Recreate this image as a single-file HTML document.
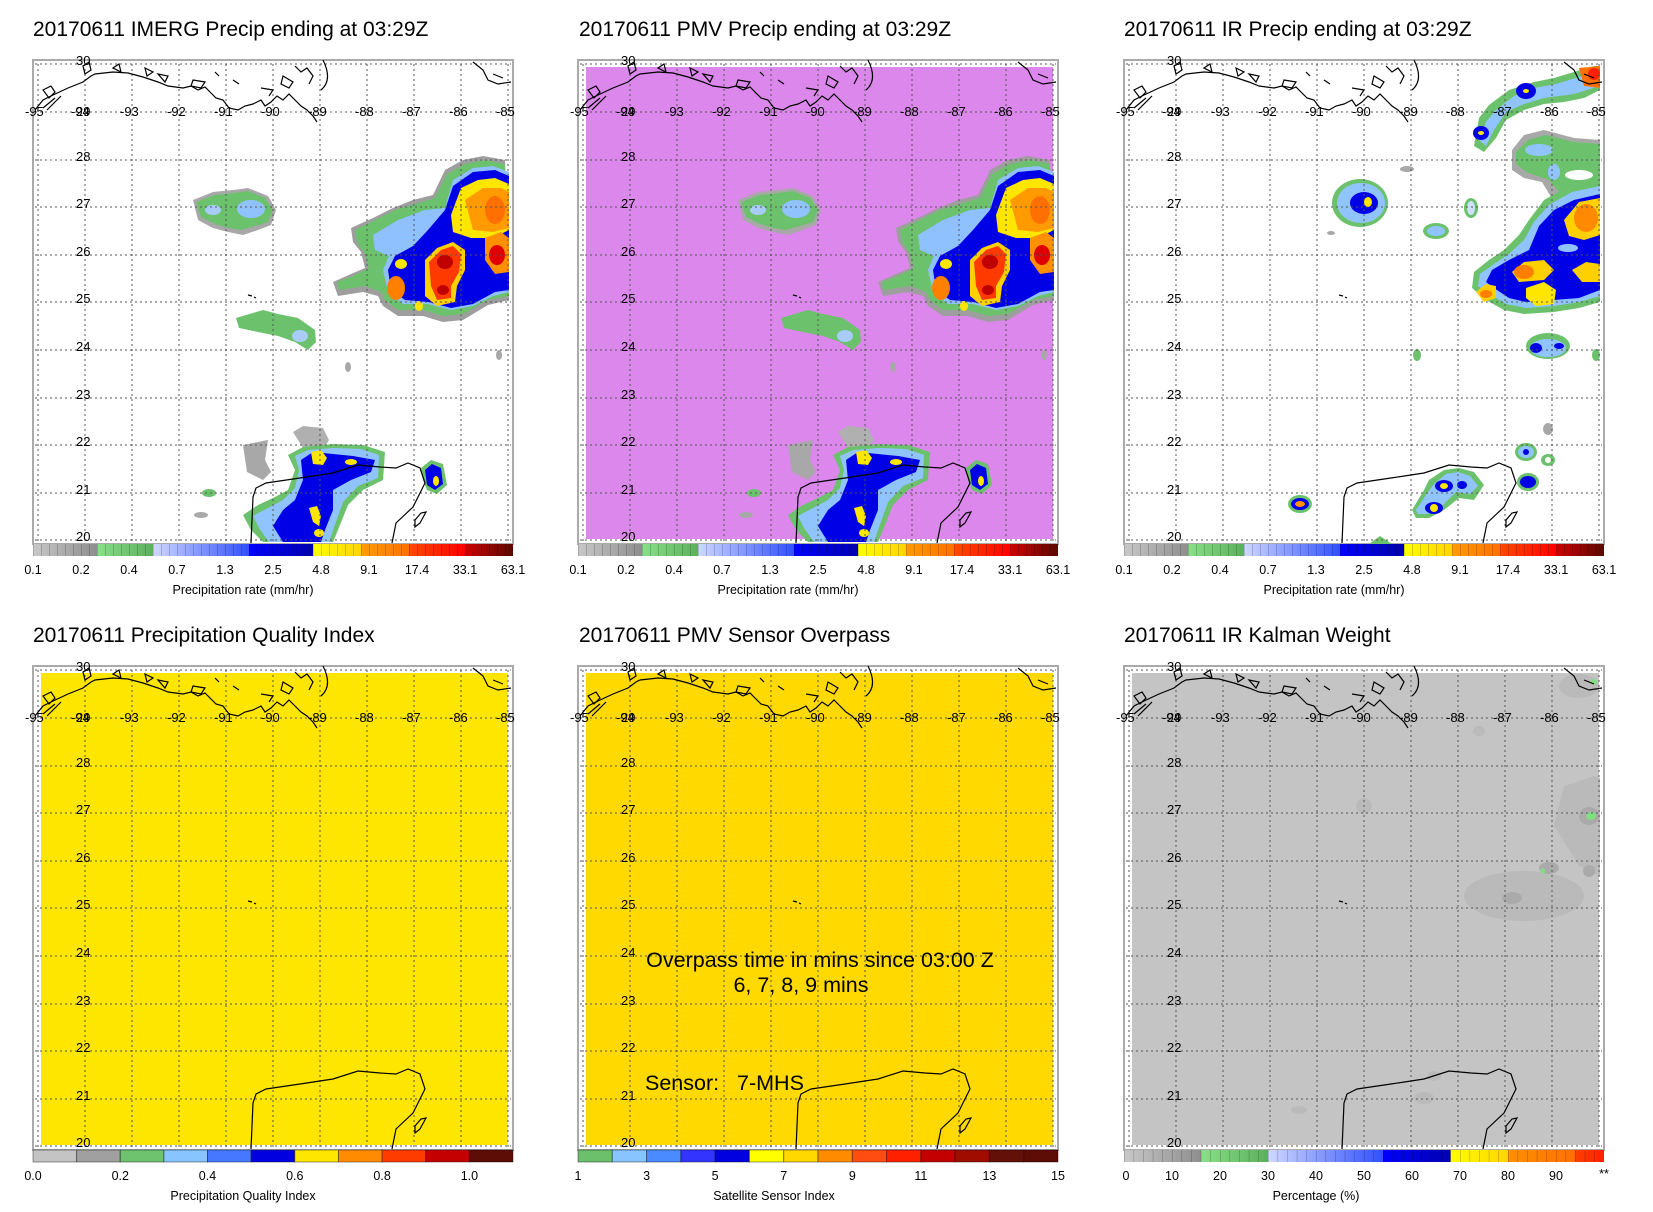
<!DOCTYPE html>
<html><head><meta charset="utf-8"><style>
html,body{margin:0;padding:0;background:#fff}
svg{display:block}
text{font-family:"Liberation Sans",sans-serif;fill:#000}
.t{font-size:21px}
.tk{font-size:13px}
.cl{font-size:12.5px}
.at{font-size:12.5px}
</style></head><body>
<svg width="1653" height="1212" viewBox="0 0 1653 1212" xmlns="http://www.w3.org/2000/svg">
<defs>
  <g id="grid" fill="none" stroke="#555" stroke-width="1" stroke-dasharray="2,3">
    <path d="M5 4V482M52 4V482M99 4V482M146 4V482M193 4V482M240 4V482M287 4V482M334 4V482M381 4V482M428 4V482M475 4V482"/>
    <path d="M2 4H478M2 52H478M2 100H478M2 147H478M2 195H478M2 242H478M2 290H478M2 338H478M2 385H478M2 433H478M2 480H478"/>
  </g>
  <g id="coast" fill="none" stroke="#000" stroke-width="1.2">
    <path d="M2 50 L10 40 L20 35 L35 28 L50 22 L58 16 L62 14 L80 12 L95 13 L110 17 L125 22 L135 26 L150 28 L158 26 L165 30 L172 27 L178 33 L183 38 L190 40 L196 48 L205 50 L212 46 L220 44 L228 40 L232 46 L238 42 L244 36 L250 40 L256 34 L262 40 L268 46 L274 50 L280 56 L284 62"/>
    <path d="M10 30 L18 26 L22 32 L16 38 Z M50 6 L56 2 L58 10 L52 14 Z M80 8 L86 4 L88 12 Z M112 8 L120 12 L114 16 Z M125 14 L135 16 L132 22 Z M160 20 L172 22 L168 28 L158 26 Z M182 12 L186 16 M200 20 L206 24 M228 28 L240 30 L236 36 M250 16 L260 22 L256 28 L248 24 Z M262 6 L268 12 L274 8 L280 16 L276 24 M290 0 Q300 20 288 30"/>
    <path d="M10 48 L22 38 M14 50 L28 36"/>
    <path d="M440 2 L450 10 L455 20 L465 24 L478 22 M460 14 L470 18"/>
    <path d="M218 483 L220 437 L223 428 L233 423 L267 418 L300 413 L325 405 L347 407 L363 408 L375 403 L387 408 L392 423 L380 447 L363 463 L359 483"/>
    <path d="M382 460 L388 453 L393 452 L387 463 L382 467 Z"/>
    <path d="M215 235 L219 236 M221 237 L223 238"/>
  </g>
  <g id="lonlab" class="tk">
    <text x="-8" y="56" class="tk">-95</text><text x="38" y="56" class="tk">-94</text>
    <text x="87" y="56" class="tk">-93</text><text x="134" y="56" class="tk">-92</text>
    <text x="181" y="56" class="tk">-91</text><text x="228" y="56" class="tk">-90</text>
    <text x="275" y="56" class="tk">-89</text><text x="322" y="56" class="tk">-88</text>
    <text x="369" y="56" class="tk">-87</text><text x="416" y="56" class="tk">-86</text>
    <text x="463" y="56" class="tk">-85</text>
  </g>
  <g id="imerg">
    <path d="M160 140 L180 132 L200 130 L215 128 L235 136 L243 150 L238 165 L225 170 L210 175 L195 172 L180 168 L165 160 Z" fill="#a8a8a8"/>
    <path d="M163 142 L182 135 L200 133 L215 131 L232 138 L240 150 L235 162 L222 166 L208 170 L195 168 L182 164 L168 157 Z" fill="#6cc26c"/>
    <ellipse cx="218" cy="149" rx="14" ry="9" fill="#8fc2ff"/><ellipse cx="180" cy="150" rx="8" ry="5" fill="#a8ccff"/>
    <path d="M203 258 L230 250 L245 254 L265 258 L282 270 L283 282 L275 290 L262 282 L245 276 L225 272 L206 268 Z" fill="#6cc26c"/>
    <ellipse cx="267" cy="276" rx="8" ry="6" fill="#a8ccff"/>
    <path d="M318 168 L340 158 L360 148 L380 140 L400 135 L412 110 L430 100 L450 96 L472 100 L476 240 L455 245 L430 260 L410 262 L390 256 L365 256 L350 246 L345 236 L330 232 L305 236 L300 222 L318 214 L332 208 L328 192 L320 182 Z" fill="#9e9e9e"/>
    <path d="M322 170 L342 160 L362 150 L382 144 L402 138 L414 114 L432 104 L452 100 L472 104 L476 236 L455 240 L430 254 L410 256 L390 250 L365 250 L352 240 L348 232 L332 226 L306 230 L304 222 L320 216 L336 208 L332 194 L324 182 Z" fill="#6cc26c"/>
    <path d="M340 175 L365 160 L392 150 L412 148 L420 120 L440 108 L460 106 L476 112 L476 232 L460 236 L440 246 L418 250 L395 244 L370 244 L355 232 L350 210 L356 196 L342 190 Z" fill="#8fc0ff"/>
    <path d="M395 170 L412 150 L420 126 L440 112 L462 110 L476 116 L476 230 L462 232 L440 244 L418 248 L395 242 L372 240 L358 230 L355 210 L362 196 L380 186 Z" fill="#0000e6"/>
    <path d="M418 155 L428 128 L445 120 L462 118 L476 124 L476 170 L460 178 L438 178 L420 172 Z" fill="#ffe600"/>
    <path d="M432 140 L450 128 L468 128 L476 132 L476 168 L460 172 L440 170 Z" fill="#ff9a00"/>
    <ellipse cx="462" cy="150" rx="10" ry="14" fill="#ff7000"/>
    <path d="M392 200 L404 188 L420 182 L432 190 L432 210 L424 226 L422 242 L404 246 L392 236 Z" fill="#ffd000"/>
    <path d="M396 202 L408 190 L420 186 L428 194 L426 212 L418 226 L418 238 L404 240 L398 226 Z" fill="#ff3a00"/>
    <ellipse cx="412" cy="202" rx="8" ry="7" fill="#c00000"/><ellipse cx="410" cy="230" rx="6" ry="5" fill="#c00000"/>
    <path d="M452 178 L468 172 L476 178 L476 212 L462 214 L452 200 Z" fill="#ff9000"/>
    <ellipse cx="464" cy="195" rx="8" ry="10" fill="#e00000"/>
    <ellipse cx="363" cy="228" rx="9" ry="12" fill="#ff8000"/>
    <ellipse cx="368" cy="204" rx="6" ry="5" fill="#ffe600"/>
    <ellipse cx="386" cy="246" rx="4" ry="5" fill="#ffe600"/>
    <path d="M210 385 L235 380 L232 400 L238 412 L230 420 L214 412 Z" fill="#a8a8a8"/>
    <path d="M260 372 L270 366 L290 368 L296 380 L290 390 L270 388 Z" fill="#b0b0b0"/>
    <path d="M255 395 L270 387 L300 384 L330 385 L352 392 L350 420 L330 430 L315 445 L305 470 L300 482 L230 482 L218 470 L210 455 L225 445 L240 438 L255 430 L262 410 Z" fill="#6cc26c"/>
    <path d="M262 396 L275 390 L300 388 L328 389 L346 395 L345 418 L325 426 L310 442 L300 470 L296 482 L236 482 L226 468 L220 456 L235 448 L250 440 L262 428 L266 410 Z" fill="#90c4ff"/>
    <path d="M268 400 L280 392 L300 394 L320 396 L342 400 L338 412 L318 420 L300 430 L300 450 L292 470 L288 482 L250 482 L240 466 L250 450 L262 440 L270 420 Z" fill="#0000e6"/>
    <path d="M278 392 L288 390 L294 398 L290 405 L280 404 Z" fill="#ffe600"/>
    <ellipse cx="318" cy="402" rx="6" ry="3" fill="#ffe600"/>
    <path d="M276 448 L284 446 L288 456 L286 466 L280 462 Z" fill="#ffe600"/>
    <ellipse cx="286" cy="473" rx="5" ry="4" fill="#ffe600"/>
    <path d="M388 408 L398 400 L410 404 L414 425 L404 434 L394 430 L390 420 Z" fill="#6cc26c"/>
    <path d="M392 410 L399 404 L408 408 L410 424 L402 430 L394 425 Z" fill="#0000e6"/>
    <ellipse cx="403" cy="421" rx="3" ry="5" fill="#ffe600"/>
    <ellipse cx="176" cy="433" rx="7" ry="4" fill="#6cc26c"/>
    <ellipse cx="168" cy="455" rx="7" ry="3" fill="#a8a8a8"/>
    <ellipse cx="315" cy="307" rx="3" ry="5" fill="#a8a8a8"/>
    <ellipse cx="466" cy="295" rx="3" ry="5" fill="#a8a8a8"/>
  </g>
  <g id="ir">
    <path d="M355 58 L365 45 L385 30 L410 22 L430 18 L450 12 L470 6 L476 6 L476 30 L460 38 L440 42 L420 44 L400 50 L382 60 L372 78 L360 92 L350 86 Z" fill="#6cc26c"/>
    <path d="M362 62 L372 50 L390 36 L410 28 L432 24 L452 18 L476 10 L476 26 L450 34 L420 38 L400 44 L382 52 L370 70 L362 86 L355 80 Z" fill="#90c4ff"/>
    <ellipse cx="402" cy="31" rx="10" ry="8" fill="#0000e6"/><ellipse cx="402" cy="31" rx="3" ry="2" fill="#ffe600"/>
    <ellipse cx="357" cy="73" rx="8" ry="7" fill="#0000e6"/><ellipse cx="357" cy="73" rx="3" ry="2" fill="#ffe600"/>
    <path d="M455 8 L476 6 L476 28 L460 26 Z" fill="#ff7000"/><ellipse cx="470" cy="14" rx="6" ry="6" fill="#ff2000"/>
    <path d="M388 90 L400 75 L420 70 L450 78 L476 80 L476 140 L460 148 L440 150 L430 142 L418 122 L400 118 L388 110 Z" fill="#a8a8a8"/>
    <path d="M392 92 L404 80 L422 75 L450 82 L476 84 L476 136 L455 142 L440 138 L425 120 L402 112 L392 104 Z" fill="#6cc26c"/>
    <ellipse cx="415" cy="90" rx="14" ry="6" fill="#90c4ff"/><ellipse cx="430" cy="112" rx="6" ry="8" fill="#90c4ff"/>
    <ellipse cx="455" cy="115" rx="14" ry="5" fill="#fff"/>
    <path d="M405 160 L420 140 L445 126 L476 118 L476 242 L455 248 L430 252 L400 254 L380 250 L362 240 L348 228 L350 212 L365 200 L380 190 L395 175 Z" fill="#6cc26c"/>
    <path d="M410 162 L425 145 L448 132 L476 126 L476 236 L455 242 L430 246 L402 248 L382 244 L366 234 L354 226 L356 214 L370 204 L385 194 L400 180 Z" fill="#90c4ff"/>
    <path d="M415 166 L430 150 L450 140 L476 134 L476 230 L455 238 L430 240 L402 242 L385 238 L370 228 L362 222 L368 210 L385 200 L405 190 Z" fill="#0000e6"/>
    <path d="M440 160 L455 142 L476 138 L476 175 L460 180 L445 176 Z" fill="#ffd000"/>
    <ellipse cx="462" cy="158" rx="12" ry="14" fill="#ff8a00"/>
    <path d="M388 212 L400 202 L420 200 L430 210 L420 220 L395 222 Z" fill="#ffd000"/>
    <ellipse cx="400" cy="212" rx="10" ry="7" fill="#ff8000"/>
    <path d="M402 228 L420 222 L432 230 L430 244 L412 246 L402 238 Z" fill="#ffe600"/>
    <path d="M352 232 L362 224 L372 226 L372 238 L360 242 Z" fill="#ffd000"/><ellipse cx="362" cy="234" rx="6" ry="4" fill="#ff8000"/>
    <path d="M448 210 L462 202 L476 204 L476 222 L458 222 Z" fill="#ffd000"/>
    <ellipse cx="444" cy="188" rx="10" ry="4" fill="#90c4ff"/>
    <ellipse cx="236" cy="143" rx="28" ry="24" fill="#6cc26c"/>
    <ellipse cx="237" cy="143" rx="24" ry="20" fill="#90c4ff"/>
    <ellipse cx="240" cy="143" rx="14" ry="11" fill="#0000e6"/>
    <ellipse cx="244" cy="142" rx="4" ry="5" fill="#ffe600"/>
    <ellipse cx="283" cy="109" rx="7" ry="3" fill="#a8a8a8"/>
    <ellipse cx="207" cy="173" rx="4" ry="2" fill="#a8a8a8"/>
    <ellipse cx="312" cy="171" rx="13" ry="8" fill="#6cc26c"/><ellipse cx="312" cy="171" rx="9" ry="5" fill="#90c4ff"/>
    <ellipse cx="347" cy="148" rx="7" ry="10" fill="#6cc26c"/><ellipse cx="347" cy="148" rx="4" ry="7" fill="#cce0ff"/>
    <ellipse cx="424" cy="286" rx="22" ry="13" fill="#6cc26c"/><ellipse cx="424" cy="288" rx="18" ry="9" fill="#90c4ff"/>
    <ellipse cx="412" cy="288" rx="6" ry="5" fill="#0000e6"/><ellipse cx="435" cy="286" rx="5" ry="3" fill="#0000e6"/>
    <ellipse cx="293" cy="295" rx="4" ry="6" fill="#6cc26c"/>
    <ellipse cx="472" cy="295" rx="4" ry="6" fill="#6cc26c"/>
    <ellipse cx="424" cy="369" rx="5" ry="6" fill="#a8a8a8"/>
    <path d="M288 450 L300 430 L305 420 L320 410 L335 408 L350 412 L360 425 L350 440 L335 438 L320 450 L305 458 L292 458 Z" fill="#6cc26c"/>
    <path d="M292 450 L304 432 L310 424 L322 414 L334 412 L346 416 L354 426 L346 434 L332 432 L318 446 L304 454 L294 454 Z" fill="#90c4ff"/>
    <ellipse cx="320" cy="426" rx="9" ry="6" fill="#0000e6"/><ellipse cx="320" cy="426" rx="4" ry="3" fill="#ffe600"/>
    <ellipse cx="310" cy="448" rx="9" ry="6" fill="#0000e6"/><ellipse cx="310" cy="448" rx="4" ry="4" fill="#ffe600"/>
    <ellipse cx="338" cy="425" rx="5" ry="4" fill="#0000e6"/>
    <ellipse cx="176" cy="444" rx="12" ry="9" fill="#6cc26c"/><ellipse cx="176" cy="444" rx="9" ry="6" fill="#0000e6"/><ellipse cx="176" cy="444" rx="5" ry="3" fill="#ff9000"/>
    <ellipse cx="402" cy="392" rx="11" ry="9" fill="#6cc26c"/><ellipse cx="402" cy="392" rx="8" ry="6" fill="#90c4ff"/><ellipse cx="402" cy="392" rx="3" ry="3" fill="#0000e6"/>
    <ellipse cx="404" cy="422" rx="11" ry="9" fill="#6cc26c"/><ellipse cx="404" cy="422" rx="8" ry="6" fill="#0000e6"/>
    <ellipse cx="424" cy="400" rx="7" ry="6" fill="#6cc26c"/><ellipse cx="424" cy="400" rx="3" ry="3" fill="#fff"/>
    <path d="M245 484 L256 476 L268 484 Z" fill="#6cc26c"/>
  </g>
  <linearGradient id="gp" x1="0" x2="1">
    <stop offset="0" stop-color="#c8c8c8"/><stop offset="0.133" stop-color="#8e8e8e"/>
    <stop offset="0.133" stop-color="#88e088"/><stop offset="0.25" stop-color="#5cb05c"/>
    <stop offset="0.25" stop-color="#d0d8ff"/><stop offset="0.45" stop-color="#3050ff"/>
    <stop offset="0.45" stop-color="#0000ff"/><stop offset="0.583" stop-color="#0000b0"/>
    <stop offset="0.583" stop-color="#ffff00"/><stop offset="0.683" stop-color="#ffd400"/>
    <stop offset="0.683" stop-color="#ff9c00"/><stop offset="0.783" stop-color="#ff7000"/>
    <stop offset="0.783" stop-color="#ff4a00"/><stop offset="0.9" stop-color="#ff0000"/>
    <stop offset="0.9" stop-color="#d00000"/><stop offset="1" stop-color="#5a0a00"/>
  </linearGradient>
  <linearGradient id="gk" x1="0" x2="1">
    <stop offset="0" stop-color="#c8c8c8"/><stop offset="0.16" stop-color="#8e8e8e"/>
    <stop offset="0.16" stop-color="#88e088"/><stop offset="0.3" stop-color="#5cb05c"/>
    <stop offset="0.3" stop-color="#d0d8ff"/><stop offset="0.54" stop-color="#3050ff"/>
    <stop offset="0.54" stop-color="#0000ff"/><stop offset="0.68" stop-color="#0000b0"/>
    <stop offset="0.68" stop-color="#ffff00"/><stop offset="0.8" stop-color="#ffd400"/>
    <stop offset="0.8" stop-color="#ff9000"/><stop offset="0.94" stop-color="#ff7000"/>
    <stop offset="0.94" stop-color="#ff4000"/><stop offset="1" stop-color="#ff2000"/>
  </linearGradient>
  <pattern id="seg8" width="8" height="12" patternUnits="userSpaceOnUse"><path d="M0 0V12" stroke="#000" stroke-opacity="0.35" stroke-width="1"/></pattern>
  <pattern id="seg96" width="9.6" height="12" patternUnits="userSpaceOnUse"><path d="M0 0V12" stroke="#000" stroke-opacity="0.35" stroke-width="1"/></pattern>
  <g id="latlab">
    <text x="43" y="5" class="tk">30</text><text x="43" y="101" class="tk">28</text>
    <text x="43" y="148" class="tk">27</text><text x="43" y="196" class="tk">26</text>
    <text x="43" y="243" class="tk">25</text><text x="43" y="291" class="tk">24</text>
    <text x="43" y="339" class="tk">23</text><text x="43" y="386" class="tk">22</text>
    <text x="43" y="434" class="tk">21</text><text x="43" y="481" class="tk">20</text>
    <text x="43" y="56" class="tk">29</text>
  </g>
  <g id="pcbar">
    <rect x="0" y="484" width="480" height="12" fill="url(#gp)"/>
    <rect x="0" y="484" width="480" height="12" fill="url(#seg8)"/>
    <text x="0" y="514" class="cl" text-anchor="middle">0.1</text><text x="48" y="514" class="cl" text-anchor="middle">0.2</text>
    <text x="96" y="514" class="cl" text-anchor="middle">0.4</text><text x="144" y="514" class="cl" text-anchor="middle">0.7</text>
    <text x="192" y="514" class="cl" text-anchor="middle">1.3</text><text x="240" y="514" class="cl" text-anchor="middle">2.5</text>
    <text x="288" y="514" class="cl" text-anchor="middle">4.8</text><text x="336" y="514" class="cl" text-anchor="middle">9.1</text>
    <text x="384" y="514" class="cl" text-anchor="middle">17.4</text><text x="432" y="514" class="cl" text-anchor="middle">33.1</text>
    <text x="480" y="514" class="cl" text-anchor="middle">63.1</text>
    <text x="210" y="534" class="at" text-anchor="middle">Precipitation rate (mm/hr)</text>
  </g>
</defs>

<text x="33" y="36" class="t">20170611 IMERG Precip ending at 03:29Z</text>
<text x="579" y="36" class="t">20170611 PMV Precip ending at 03:29Z</text>
<text x="1124" y="36" class="t">20170611 IR Precip ending at 03:29Z</text>
<text x="33" y="642" class="t">20170611 Precipitation Quality Index</text>
<text x="579" y="642" class="t">20170611 PMV Sensor Overpass</text>
<text x="1124" y="642" class="t">20170611 IR Kalman Weight</text>

<g transform="translate(33,60)">
  <rect x="0" y="0" width="480" height="484" fill="#fff" stroke="#aaa" stroke-width="2"/>
  <use href="#imerg"/>
  <use href="#grid"/><use href="#coast"/><use href="#lonlab"/><use href="#latlab"/>
  <use href="#pcbar"/>
</g>
<g transform="translate(578,60)">
  <rect x="0" y="0" width="480" height="484" fill="#fff" stroke="#aaa" stroke-width="2"/>
  <rect x="8" y="7" width="467" height="472" fill="#db87ec"/>
  <use href="#imerg"/>
  <use href="#grid"/><use href="#coast"/><use href="#lonlab"/><use href="#latlab"/>
  <use href="#pcbar"/>
</g>
<g transform="translate(1124,60)">
  <rect x="0" y="0" width="480" height="484" fill="#fff" stroke="#aaa" stroke-width="2"/>
  <use href="#ir"/>
  <use href="#grid"/><use href="#coast"/><use href="#lonlab"/><use href="#latlab"/>
  <use href="#pcbar"/>
</g>
<g transform="translate(33,666)">
  <rect x="0" y="0" width="480" height="484" fill="#fff" stroke="#aaa" stroke-width="2"/>
  <rect x="8" y="7" width="467" height="472" fill="#ffe600"/>
  <use href="#grid"/><use href="#coast"/><use href="#lonlab"/><use href="#latlab"/>
  <g stroke="#000" stroke-opacity="0.4" stroke-width="1">
    <rect x="0" y="484" width="43.6" height="12" fill="#c4c4c4"/>
    <rect x="43.6" y="484" width="43.6" height="12" fill="#a0a0a0"/>
    <rect x="87.3" y="484" width="43.6" height="12" fill="#6ec46e"/>
    <rect x="130.9" y="484" width="43.6" height="12" fill="#88c4ff"/>
    <rect x="174.5" y="484" width="43.6" height="12" fill="#4678ff"/>
    <rect x="218.2" y="484" width="43.6" height="12" fill="#0000e0"/>
    <rect x="261.8" y="484" width="43.6" height="12" fill="#ffe600"/>
    <rect x="305.5" y="484" width="43.6" height="12" fill="#ff8c00"/>
    <rect x="349.1" y="484" width="43.6" height="12" fill="#ff3c00"/>
    <rect x="392.7" y="484" width="43.6" height="12" fill="#c40000"/>
    <rect x="436.4" y="484" width="43.6" height="12" fill="#5e0c06"/>
  </g>
  <text x="0" y="514" class="cl" text-anchor="middle">0.0</text><text x="87.3" y="514" class="cl" text-anchor="middle">0.2</text>
  <text x="174.5" y="514" class="cl" text-anchor="middle">0.4</text><text x="261.8" y="514" class="cl" text-anchor="middle">0.6</text>
  <text x="349.1" y="514" class="cl" text-anchor="middle">0.8</text><text x="436.4" y="514" class="cl" text-anchor="middle">1.0</text>
  <text x="210" y="534" class="at" text-anchor="middle">Precipitation Quality Index</text>
</g>
<g transform="translate(578,666)">
  <rect x="0" y="0" width="480" height="484" fill="#fff" stroke="#aaa" stroke-width="2"/>
  <rect x="8" y="7" width="467" height="472" fill="#ffd900"/>
  <use href="#grid"/><use href="#coast"/><use href="#lonlab"/><use href="#latlab"/>
  <text x="242" y="301" style="font-size:21.5px" text-anchor="middle">Overpass time in mins since 03:00 Z</text>
  <text x="223" y="326" style="font-size:21.5px" text-anchor="middle">6, 7, 8, 9 mins</text>
  <text x="67" y="424" style="font-size:21.5px">Sensor:&#160;&#160;&#160;7-MHS</text>
  <g stroke="#000" stroke-opacity="0.4" stroke-width="1">
    <rect x="0" y="484" width="34.3" height="12" fill="#6cc06c"/>
    <rect x="34.3" y="484" width="34.3" height="12" fill="#88c4ff"/>
    <rect x="68.6" y="484" width="34.3" height="12" fill="#4a8cff"/>
    <rect x="102.9" y="484" width="34.3" height="12" fill="#3434ff"/>
    <rect x="137.1" y="484" width="34.3" height="12" fill="#0000e0"/>
    <rect x="171.4" y="484" width="34.3" height="12" fill="#ffff00"/>
    <rect x="205.7" y="484" width="34.3" height="12" fill="#ffd800"/>
    <rect x="240" y="484" width="34.3" height="12" fill="#ff8c00"/>
    <rect x="274.3" y="484" width="34.3" height="12" fill="#ff4c10"/>
    <rect x="308.6" y="484" width="34.3" height="12" fill="#ff2000"/>
    <rect x="342.9" y="484" width="34.3" height="12" fill="#c40000"/>
    <rect x="377.1" y="484" width="34.3" height="12" fill="#a00c00"/>
    <rect x="411.4" y="484" width="34.3" height="12" fill="#621008"/>
    <rect x="445.7" y="484" width="34.3" height="12" fill="#5e0c06"/>
  </g>
  <text x="0" y="514" class="cl" text-anchor="middle">1</text><text x="68.6" y="514" class="cl" text-anchor="middle">3</text>
  <text x="137.1" y="514" class="cl" text-anchor="middle">5</text><text x="205.7" y="514" class="cl" text-anchor="middle">7</text>
  <text x="274.3" y="514" class="cl" text-anchor="middle">9</text><text x="342.9" y="514" class="cl" text-anchor="middle">11</text>
  <text x="411.4" y="514" class="cl" text-anchor="middle">13</text><text x="480" y="514" class="cl" text-anchor="middle">15</text>
  <text x="196" y="534" class="at" text-anchor="middle">Satellite Sensor Index</text>
</g>
<g transform="translate(1124,666)">
  <rect x="0" y="0" width="480" height="484" fill="#fff" stroke="#aaa" stroke-width="2"/>
  <rect x="8" y="7" width="467" height="472" fill="#c4c4c4"/>
  <g fill="#bababa">
    <path d="M440 120 L470 110 L476 112 L476 210 L455 200 L440 175 L430 160 Z"/>
    <ellipse cx="400" cy="230" rx="60" ry="25"/>
    <ellipse cx="240" cy="140" rx="8" ry="8"/>
    <ellipse cx="455" cy="20" rx="20" ry="12"/>
    <ellipse cx="355" cy="65" rx="6" ry="5"/>
    <ellipse cx="175" cy="444" rx="8" ry="4"/>
    <ellipse cx="300" cy="432" rx="10" ry="6"/>
    <ellipse cx="310" cy="410" rx="7" ry="5"/>
  </g>
  <g fill="#aaaaaa">
    <ellipse cx="465" cy="150" rx="10" ry="9"/><ellipse cx="388" cy="232" rx="10" ry="6"/>
    <ellipse cx="425" cy="202" rx="10" ry="6"/><ellipse cx="465" cy="205" rx="6" ry="6"/>
  </g>
  <ellipse cx="467" cy="150" rx="5" ry="4" fill="#7ee07e"/>
  <ellipse cx="419" cy="205" rx="2" ry="3" fill="#7ee07e"/>
  <ellipse cx="470" cy="16" rx="3" ry="3" fill="#7ee07e"/>
  <use href="#grid"/><use href="#coast"/><use href="#lonlab"/><use href="#latlab"/>
  <rect x="0" y="484" width="480" height="12" fill="url(#gk)"/>
  <rect x="0" y="484" width="480" height="12" fill="url(#seg96)"/>
  <text x="2" y="514" class="cl" text-anchor="middle">0</text><text x="48" y="514" class="cl" text-anchor="middle">10</text>
  <text x="96" y="514" class="cl" text-anchor="middle">20</text><text x="144" y="514" class="cl" text-anchor="middle">30</text>
  <text x="192" y="514" class="cl" text-anchor="middle">40</text><text x="240" y="514" class="cl" text-anchor="middle">50</text>
  <text x="288" y="514" class="cl" text-anchor="middle">60</text><text x="336" y="514" class="cl" text-anchor="middle">70</text>
  <text x="384" y="514" class="cl" text-anchor="middle">80</text><text x="432" y="514" class="cl" text-anchor="middle">90</text>
  <text x="480" y="512" class="cl" text-anchor="middle">**</text>
  <text x="192" y="534" class="at" text-anchor="middle">Percentage (%)</text>
</g>
</svg>
</body></html>
